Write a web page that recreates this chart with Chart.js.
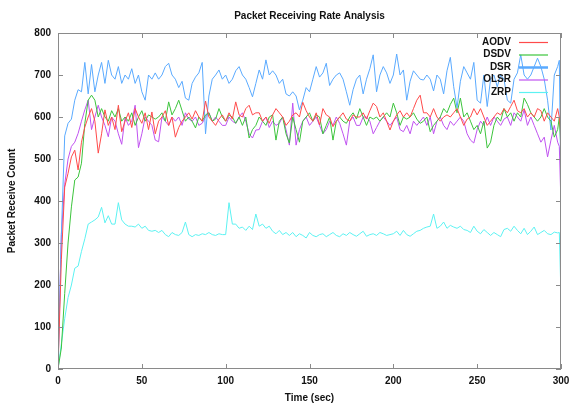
<!DOCTYPE html>
<html lang="en">
<head>
    <meta charset="UTF-8">
    <title>Packet Receiving Rate Analysis</title>
    <style>
        html, body {
            margin: 0;
            padding: 0;
            background: #fff;
        }

        .chart-box {
            width: 569px;
            height: 408px;
        }
    </style>
    <script src="https://cdn.jsdelivr.net/npm/chart.js"></script>
</head>
<body>
<div class="chart-box">
    <canvas id="rateChart"></canvas>
</div>
<script>
    // samples every 2 s, plus the last two seconds of the run
    const times = [];
    for (let t = 0; t <= 298; t += 2) times.push(t);
    times.push(299, 300);

    const protocols = ['AODV', 'DSDV', 'DSR', 'OLSR', 'ZRP'];

    const aodv = [
        0, 260, 433, 466, 505, 521, 474, 540, 576, 600,
        620, 590, 514, 560, 617, 580, 600, 570, 628, 565,
        590, 610, 575, 620, 600, 585, 610, 570, 612, 560,
        590, 600, 615, 580, 600, 552, 575, 590, 600, 610,
        595, 615, 600, 590, 638, 600, 590, 580, 595, 605,
        590, 610, 595, 636, 605, 600, 620, 628, 605, 610,
        610, 590, 600, 585, 605, 620, 610, 600, 580, 590,
        605, 610, 600, 635, 615, 600, 590, 610, 581, 620,
        605, 600, 577, 590, 600, 610, 595, 590, 605, 600,
        600, 610, 595, 615, 633, 625, 600, 610, 590, 569,
        590, 605, 615, 600, 610, 600, 620, 640, 652, 610,
        610, 600, 620, 600, 590, 600, 605, 600, 610, 620,
        600, 580, 595, 600, 620, 605, 620, 600, 580, 590,
        600, 610, 605, 620, 610, 625, 640, 615, 610, 620,
        600, 610, 600, 620, 615, 590, 610, 600, 590, 620,
        600, 560
    ];

    const dsdv = [
        0, 50, 180, 300, 386, 450, 457, 490, 585, 640,
        652, 640, 600, 620, 600, 590, 615, 600, 620, 590,
        600, 590, 610, 580, 600, 615, 590, 605, 600, 595,
        600, 610, 590, 636, 605, 620, 640, 615, 590, 600,
        590, 574, 600, 590, 605, 610, 590, 595, 620, 600,
        590, 605, 600, 585, 600, 580, 600, 550, 570, 580,
        600, 590, 580, 600, 605, 545, 590, 600, 560, 538,
        600, 570, 540, 590, 600, 610, 590, 605, 600, 560,
        580, 600, 545, 590, 600, 590, 585, 600, 610, 595,
        620, 600, 580, 600, 595, 600, 590, 600, 610, 600,
        633, 610, 580, 600, 595, 600, 610, 595, 585, 590,
        600, 565, 580, 590, 600, 620, 610, 630, 645, 610,
        645, 600, 610, 590, 570, 580, 560, 590, 526, 540,
        580, 600, 590, 620, 600, 610, 590, 610, 600, 645,
        630, 610, 600, 590, 600, 620, 600, 590, 552, 570,
        600, 520
    ];

    const dsr = [
        0, 320, 555, 585, 595, 640, 665, 660, 730, 655,
        725, 660, 700, 730, 680, 735, 700, 690, 720, 680,
        700, 690, 715, 680, 700, 660, 640, 700, 690, 705,
        690, 700, 720, 728, 700, 690, 670, 685, 645, 640,
        680, 695, 705, 730, 560, 650, 690, 700, 712, 690,
        700, 680, 690, 710, 720, 700, 690, 670, 648, 680,
        712, 690, 736, 700, 710, 700, 680, 690, 655, 650,
        660, 650, 617, 640, 670, 660, 690, 720, 695, 705,
        728, 675, 690, 700, 705, 690, 660, 628, 665, 690,
        700, 655, 690, 715, 748, 660, 700, 720, 705, 680,
        700, 750, 700, 712, 640, 685, 710, 700, 690, 688,
        700, 690, 662, 700, 690, 655, 710, 742, 672, 622,
        685, 720, 705, 690, 730, 640, 633, 700, 625, 690,
        700, 672, 700, 690, 640, 633, 690, 705, 748, 700,
        690, 700, 720, 740, 720, 690, 640, 569, 700, 720,
        735, 400
    ];

    const olsr = [
        0, 320, 440, 500, 530, 540, 561, 590, 617, 640,
        570, 600, 628, 600, 580, 553, 600, 590, 560, 535,
        600, 580, 590, 628, 527, 560, 600, 590, 580, 545,
        541, 600, 590, 580, 600, 590, 600, 580, 610, 595,
        590, 600, 580, 585, 600, 610, 590, 600, 590, 580,
        580, 600, 590, 585, 600, 610, 590, 560, 550, 569,
        570, 590, 600, 575, 590, 580, 585, 600, 570, 533,
        633, 533, 570, 590, 600, 580, 590, 600, 580, 560,
        570, 590, 580, 600, 585, 560, 533, 590, 600, 580,
        580, 600, 600, 590, 560, 575, 590, 600, 590, 580,
        590, 600, 570, 565, 580, 560, 590, 580, 590, 600,
        580, 600, 560, 590, 600, 580, 570, 590, 580, 590,
        600, 590, 560, 545, 538, 570, 590, 580, 600, 580,
        600, 590, 580, 595, 600, 580, 610, 600, 590, 617,
        580, 600, 580, 560, 540, 552, 505, 545, 580, 540,
        530, 390
    ];

    const zrp = [
        0, 60, 120, 170, 200, 240, 245, 280, 310, 345,
        350, 355, 362, 385, 348, 365, 345, 345, 396, 355,
        345, 340, 340, 338, 345, 335, 340, 330, 328, 330,
        325, 330, 320, 315, 325, 320, 318, 325, 350, 320,
        315, 320, 318, 322, 320, 325, 320, 318, 322, 320,
        320, 396, 345, 345, 335, 338, 330, 340, 332, 369,
        340, 345, 335, 340, 328, 322, 330, 320, 325, 318,
        325, 315, 322, 318, 312, 325, 318, 315, 320, 322,
        315, 320, 325, 318, 315, 322, 318, 325, 320, 316,
        322, 328, 316, 320, 322, 318, 325, 322, 318, 320,
        322, 328, 318, 330, 320, 316, 322, 328, 330, 335,
        338, 340, 369, 335, 340, 350, 335, 342, 338, 335,
        340, 332, 330, 325, 340, 328, 322, 332, 325, 318,
        325, 320, 315, 332, 335, 328, 340, 330, 322, 335,
        320, 328, 338, 320, 325, 330, 322, 320, 326, 324,
        325, 170
    ];

    const xTicks = [0, 50, 100, 150, 200, 250, 300];
    const yTicks = [0, 100, 200, 300, 400, 500, 600, 700, 800];

    const lineColors = ['#ff4a4a', '#3cc43c', '#5aaaff', '#c052f0', '#5cf2f2'];
    const seriesList = [aodv, dsdv, dsr, olsr, zrp];

    const FONT = '"Liberation Sans", Arial, sans-serif';

    function toPoints(values) {
        return values.map((v, i) => ({ x: times[i], y: v }));
    }

    // gnuplot-like frame: grey box, ticks pointing inwards, title and key
    const gnuplotFrame = {
        id: 'gnuplotFrame',
        afterDatasetsDraw(chart) {
            const { ctx, chartArea: a, scales } = chart;
            ctx.save();
            ctx.strokeStyle = '#8a8a8a';
            ctx.lineWidth = 1;
            ctx.strokeRect(a.left + 0.5, a.top + 0.5, a.right - a.left - 1, a.bottom - a.top - 1);

            ctx.beginPath();
            xTicks.forEach(v => {
                const px = Math.round(scales.x.getPixelForValue(v)) + 0.5;
                ctx.moveTo(px, a.bottom);
                ctx.lineTo(px, a.bottom - 5);
                ctx.moveTo(px, a.top);
                ctx.lineTo(px, a.top + 5);
            });
            yTicks.forEach(v => {
                const py = Math.round(scales.y.getPixelForValue(v)) + 0.5;
                ctx.moveTo(a.left, py);
                ctx.lineTo(a.left + 5, py);
                ctx.moveTo(a.right, py);
                ctx.lineTo(a.right - 5, py);
            });
            ctx.stroke();

            // title
            ctx.fillStyle = '#111';
            ctx.font = 'bold 10px ' + FONT;
            ctx.textAlign = 'center';
            ctx.textBaseline = 'middle';
            ctx.fillText('Packet Receiving Rate Analysis', (a.left + a.right) / 2, 16);

            // key, top right inside the plot
            ctx.textAlign = 'right';
            ctx.font = 'bold 10px ' + FONT;
            protocols.forEach((name, i) => {
                const y = a.top + 9 + i * 12.5;
                ctx.fillStyle = '#111';
                ctx.fillText(name, a.right - 50, y);
                ctx.strokeStyle = lineColors[i];
                ctx.lineWidth = name === 'DSR' ? 2.5 : 1.2;
                ctx.beginPath();
                ctx.moveTo(a.right - 42, y + 0.5);
                ctx.lineTo(a.right - 13, y + 0.5);
                ctx.stroke();
            });
            ctx.restore();
        }
    };

    const ctx = document.getElementById('rateChart').getContext('2d');
    new Chart(ctx, {
        type: 'line',
        data: {
            datasets: protocols.map((name, i) => ({
                label: name,
                data: toPoints(seriesList[i]),
                borderColor: lineColors[i],
                borderWidth: 1,
                pointRadius: 0,
                tension: 0,
                fill: false
            }))
        },
        options: {
            responsive: true,
            maintainAspectRatio: false,
            animation: false,
            layout: {
                padding: { top: 33, right: 8, left: 0, bottom: 0 }
            },
            plugins: {
                legend: { display: false },
                tooltip: { enabled: false }
            },
            scales: {
                x: {
                    type: 'linear',
                    min: 0,
                    max: 300,
                    afterFit(scale) {
                        scale.height = 39;
                        // the last label may run into the margin, as in gnuplot
                        scale.paddingRight = 0;
                        scale.paddingLeft = 0;
                    },
                    afterBuildTicks(scale) { scale.ticks = xTicks.map(v => ({ value: v })); },
                    grid: { display: false, drawTicks: false },
                    border: { display: false },
                    ticks: {
                        padding: 6,
                        color: '#111',
                        font: { family: FONT, size: 10, weight: 'bold' },
                        maxRotation: 0
                    },
                    title: {
                        display: true,
                        text: 'Time (sec)',
                        color: '#111',
                        padding: { top: 0, bottom: 4 },
                        font: { family: FONT, size: 10, weight: 'bold' }
                    }
                },
                y: {
                    min: 0,
                    max: 800,
                    afterFit(scale) {
                        scale.width = 58;
                        scale.paddingTop = 0;
                        scale.paddingBottom = 0;
                    },
                    afterBuildTicks(scale) { scale.ticks = yTicks.map(v => ({ value: v })); },
                    grid: { display: false, drawTicks: false },
                    border: { display: false },
                    ticks: {
                        padding: 7,
                        color: '#111',
                        font: { family: FONT, size: 10, weight: 'bold' }
                    },
                    title: {
                        display: true,
                        text: 'Packet Receive Count',
                        color: '#111',
                        padding: { top: 6, bottom: 0 },
                        font: { family: FONT, size: 10, weight: 'bold' }
                    }
                }
            }
        },
        plugins: [gnuplotFrame]
    });
</script>
</body>
</html>
